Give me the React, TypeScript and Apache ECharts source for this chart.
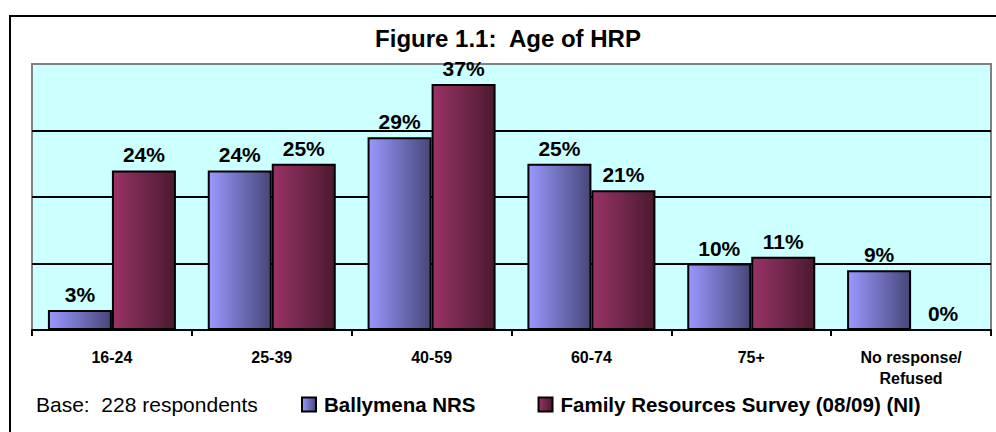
import React, { useEffect, useRef } from "react";
import * as echarts from "echarts";

const categories = ["16-24", "25-39", "40-59", "60-74", "75+", "No response/\nRefused"];
const ballymena = [3, 24, 29, 25, 10, 9];
const frs = [24, 25, 37, 21, 11, 0];
const seriesNames = ["Ballymena NRS", "Family Resources Survey (08/09) (NI)"];
const titleText = "Figure 1.1:  Age of HRP";
const baseText = "Base:  228 respondents";

const FONT = 'Arial, "Liberation Sans", sans-serif';

export default function App() {
  const ref = useRef<HTMLDivElement>(null);
  useEffect(() => {
    if (!ref.current) return;
    const chart = echarts.init(ref.current, null, { renderer: "svg" });
    const grad = (a: string, b: string) =>
      new echarts.graphic.LinearGradient(0, 0, 1, 0, [
        { offset: 0, color: a },
        { offset: 1, color: b },
      ]);
    const label = {
      show: true,
      position: "top" as const,
      distance: 5,
      formatter: "{c}%",
      color: "#000",
      fontFamily: FONT,
      fontWeight: "bold" as const,
      fontSize: 21,
    };
    chart.setOption({
      animation: false,
      backgroundColor: "#fff",
      grid: {
        left: 32,
        right: 5,
        top: 64,
        bottom: 102,
        show: true,
        backgroundColor: "#CCFFFF",
        borderColor: "#808080",
        borderWidth: 2,
      },
      legend: {
        left: 301,
        top: 394,
        padding: 0,
        itemWidth: 14,
        itemHeight: 14,
        itemGap: 62,
        icon: "rect",
        data: seriesNames,
        textStyle: { fontFamily: FONT, fontWeight: "bold", fontSize: 20.5, color: "#000", padding: [0, 0, 0, 3] },
      },
      xAxis: {
        type: "category",
        data: categories,
        axisLine: { lineStyle: { color: "#000", width: 2 } },
        axisTick: { show: true, length: 6, lineStyle: { color: "#000", width: 2 } },
        axisLabel: {
          color: "#000",
          fontFamily: FONT,
          fontWeight: "bold",
          fontSize: 16,
          lineHeight: 21,
          margin: 17,
          interval: 0,
        },
      },
      yAxis: {
        type: "value",
        min: 0,
        max: 40,
        interval: 10,
        axisLabel: { show: false },
        axisLine: { show: false },
        axisTick: { show: false },
        splitLine: { lineStyle: { color: ["#000", "#000", "#000", "#000", "#808080"], width: 2 } },
      },
      series: [
        {
          name: seriesNames[0],
          type: "bar",
          data: ballymena,
          barWidth: 64,
          barGap: "0%",
          itemStyle: { color: grad("#9999FF", "#47477A"), borderColor: "#000", borderWidth: 2 },
          label,
        },
        {
          name: seriesNames[1],
          type: "bar",
          data: frs,
          barWidth: 64,
          itemStyle: { color: grad("#993366", "#4A1A30"), borderColor: "#000", borderWidth: 2 },
          label,
        },
      ],
      graphic: [
        {
          type: "rect",
          shape: { x: 10, y: 16, width: 1000, height: 500 },
          style: { fill: "none", stroke: "#000", lineWidth: 2 },
          silent: true,
        },
        {
          type: "text",
          x: 508,
          y: 38.7,
          style: {
            text: titleText,
            fontFamily: FONT,
            fontWeight: "bold",
            fontSize: 24,
            fill: "#000",
            align: "center",
            verticalAlign: "middle",
          },
        },
        {
          type: "text",
          x: 36,
          y: 404,
          style: {
            text: baseText,
            fontFamily: FONT,
            fontSize: 21,
            fill: "#000",
            align: "left",
            verticalAlign: "middle",
          },
        },
      ],
    });
    return () => chart.dispose();
  }, []);
  return (
    <div
      ref={ref}
      style={{ position: "fixed", left: 0, top: 0, width: 996, height: 432 }}
    />
  );
}
